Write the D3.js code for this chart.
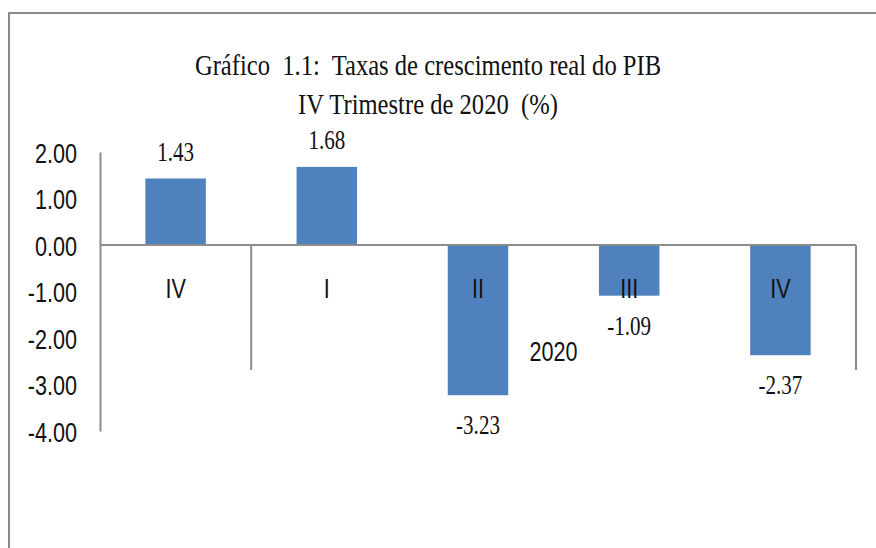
<!DOCTYPE html>
<html>
<head>
<meta charset="utf-8">
<script src="https://cdn.jsdelivr.net/npm/d3@7"></script>
<style>
  html, body { margin: 0; padding: 0; background: #fff; }
  svg { display: block; }
</style>
</head>
<body>
<svg id="chart" width="876" height="548"></svg>
<script>
// dados
const quarters = ['IV', 'I', 'II', 'III', 'IV'];
const growth = [1.43, 1.68, -3.23, -1.09, -2.37];
const yearLabels = ['', '2020'];
const yearSpans = [1, 4];
const yTicks = [2, 1, 0, -1, -2, -3, -4];
const titleLines = ['Gráfico  1.1:  Taxas de crescimento real do PIB', 'IV Trimestre de 2020  (%)'];

(function() {
    const W = 876, H = 548;
    const axisColor = '#8c8c8c';
    const barColor = '#4f81bd';
    const sansFont = "'Liberation Sans', Arial, sans-serif";
    const serifFont = "'Liberation Serif', 'Times New Roman', serif";
    // hífen simples em vez do sinal menos unicode
    const fmt = d3.formatLocale({ decimal: '.', thousands: ',', grouping: [3], currency: ['', ''], minus: '-' }).format('.2f');

    const svg = d3.select('#chart');

    // moldura exterior
    svg.append('path')
        .attr('d', `M9,${H} V13 H${W}`)
        .attr('fill', 'none')
        .attr('stroke', '#8a8a8a')
        .attr('stroke-width', 2);

    // título
    const titleY = [75, 114];
    titleLines.forEach((t, i) => {
        svg.append('text')
            .attr('transform', `translate(428, ${titleY[i]}) scale(0.82, 1)`)
            .attr('text-anchor', 'middle')
            .attr('xml:space', 'preserve')
            .style('white-space', 'pre')
            .style('font-family', serifFont)
            .style('font-size', '30px')
            .style('fill', '#111')
            .text(t);
    });

    const idx = d3.range(quarters.length);
    const x = d3.scaleBand().domain(idx).range([100, 856]).paddingInner(0).paddingOuter(0);
    const y = d3.scaleLinear().domain([-4, 2]).range([431, 152]);
    const barW = x.bandwidth() * 0.4;
    const y0 = y(0);

    // texto sans estreito (simula Calibri)
    function sansLabel(sel) {
        sel.attr('text-anchor', 'middle')
            .style('font-family', sansFont)
            .style('font-size', '27px')
            .style('fill', '#111');
    }

    // eixo Y
    const yAxis = svg.append('g')
        .attr('transform', 'translate(100,0)')
        .call(d3.axisLeft(y).tickValues(yTicks).tickFormat(fmt).tickSize(0).tickPadding(23));
    yAxis.select('.domain').attr('stroke', axisColor).attr('stroke-width', 2);
    yAxis.selectAll('.tick text')
        .attr('x', null)
        .attr('dy', null)
        .attr('transform', 'translate(-23, 10) scale(0.8, 1)')
        .attr('text-anchor', 'end')
        .style('font-family', sansFont)
        .style('font-size', '27px')
        .style('fill', '#111');

    // barras
    svg.append('g').selectAll('rect')
        .data(idx)
        .join('rect')
        .attr('x', i => x(i) + (x.bandwidth() - barW) / 2)
        .attr('y', i => y(Math.max(0, growth[i])))
        .attr('width', barW)
        .attr('height', i => Math.abs(y(growth[i]) - y0))
        .attr('fill', barColor);

    // eixo das categorias
    const catBottom = 370;
    svg.append('line')
        .attr('x1', 100).attr('x2', 856).attr('y1', y0).attr('y2', y0)
        .attr('stroke', axisColor).attr('stroke-width', 2);

    let acc = 0;
    const groupEdges = [0];
    yearSpans.forEach(s => { acc += s; groupEdges.push(acc); });
    const edgeX = e => e < quarters.length ? x(e) : x.range()[1];
    groupEdges.slice(1).forEach(e => {
        svg.append('line')
            .attr('x1', edgeX(e)).attr('x2', edgeX(e)).attr('y1', y0).attr('y2', catBottom)
            .attr('stroke', axisColor).attr('stroke-width', 2);
    });

    // rótulos dos trimestres
    svg.append('g').selectAll('text')
        .data(idx)
        .join('text')
        .attr('transform', i => `translate(${x(i) + x.bandwidth() / 2}, 298) scale(0.8, 1)`)
        .call(sansLabel)
        .text(i => quarters[i]);

    // rótulos dos anos
    yearLabels.forEach((lbl, k) => {
        if (!lbl) return;
        const cx = (edgeX(groupEdges[k]) + edgeX(groupEdges[k + 1])) / 2;
        svg.append('text')
            .attr('transform', `translate(${cx}, 361) scale(0.8, 1)`)
            .call(sansLabel)
            .text(lbl);
    });

    // valores
    svg.append('g').selectAll('text')
        .data(idx)
        .join('text')
        .attr('transform', i => {
            const cx = x(i) + x.bandwidth() / 2;
            const cy = growth[i] >= 0 ? y(growth[i]) - 18 : y(growth[i]) + 39;
            return `translate(${cx}, ${cy}) scale(0.78, 1)`;
        })
        .attr('text-anchor', 'middle')
        .style('font-family', serifFont)
        .style('font-size', '27px')
        .style('fill', '#111')
        .text(i => fmt(growth[i]));
})();
</script>
</body>
</html>
